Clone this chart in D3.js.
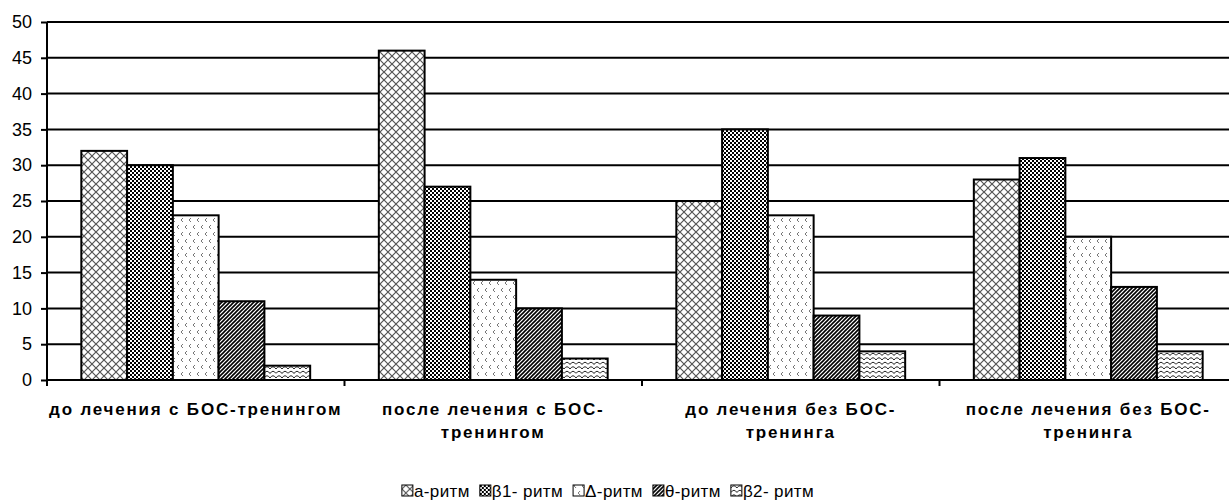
<!DOCTYPE html>
<html><head><meta charset="utf-8">
<script src="https://cdn.jsdelivr.net/npm/d3@7/dist/d3.min.js"></script>
<style>body{margin:0;background:#fff}svg{display:block}text{font-family:"Liberation Sans",Arial,sans-serif}</style>
</head><body>
<svg id="c" width="1229" height="504"></svg>
<script>
const categories = [["до лечения с БОС-тренингом"],["после лечения с БОС-","тренингом"],["до лечения без БОС-","тренинга"],["после лечения без БОС-","тренинга"]];
const seriesNames = ["а-ритм","β1- ритм","Δ-ритм","θ-ритм","β2- ритм"];
const alpha = [32,46,25,28];
const beta1 = [30,27,35,31];
const delta = [23,14,23,20];
const theta = [11,10,9,13];
const beta2 = [2,3,4,4];
const yTicks = [0,5,10,15,20,25,30,35,40,45,50];
const seriesValues = [alpha,beta1,delta,theta,beta2];

(function(){
const svg = d3.select("#c");
const defs = svg.append("defs");
function pat(id,w,h){return defs.append("pattern").attr("id",id).attr("patternUnits","userSpaceOnUse").attr("width",w).attr("height",h);}
let p = pat("p0",8,8);
p.append("rect").attr("width",8).attr("height",8).attr("fill","#fff");
p.append("path").attr("d","M0,0L8,8M8,0L0,8").attr("stroke","#555").attr("stroke-width",1.2);
p = pat("p1",4,4);
p.append("rect").attr("width",4).attr("height",4).attr("fill","#fff");
p.append("rect").attr("x",0).attr("y",0).attr("width",2).attr("height",2).attr("fill","#000");
p.append("rect").attr("x",2).attr("y",2).attr("width",2).attr("height",2).attr("fill","#000");
p = pat("p2",8,14);
p.append("rect").attr("width",8).attr("height",14).attr("fill","#fff");
p.append("path").attr("d","M3,1L1,3L3,5M7,8L5,10L7,12").attr("stroke","#777").attr("stroke-width",1).attr("fill","none");
p = pat("p3",4,4);
p.append("rect").attr("width",4).attr("height",4).attr("fill","#fff");
p.append("path").attr("d","M-1,1L1,-1M0,4L4,0M3,5L5,3").attr("stroke","#000").attr("stroke-width",1.6);
p = pat("p4",12,9);
p.append("rect").attr("width",12).attr("height",9).attr("fill","#fff");
p.append("path").attr("d","M0,4.5Q3,0 6,4.5Q9,0 12,4.5M0,9Q3,4.5 6,9Q9,4.5 12,9M0,0Q3,-4.5 6,0Q9,-4.5 12,0").attr("stroke","#222").attr("stroke-width",1).attr("fill","none");

const pL = 47, pR = 1237, pT = 22, pB = 380;
const x0 = d3.scaleBand().domain(d3.range(categories.length)).range([pL,pR]).paddingInner(0).paddingOuter(0);
const bw = x0.bandwidth()/6.5;
const y = d3.scaleLinear().domain([0,50]).range([pB,pT]);

svg.append("g").selectAll("line").data(yTicks.filter(d=>d>0)).join("line")
  .attr("x1",pL).attr("x2",1229).attr("y1",d=>y(d)).attr("y2",d=>y(d))
  .attr("stroke","#000").attr("stroke-width",2);

const ya = svg.append("g").attr("transform",`translate(${pL},0)`)
  .call(d3.axisLeft(y).tickValues(yTicks).tickSize(6).tickPadding(9));
ya.attr("font-size",null).attr("font-family",null);
ya.select(".domain").attr("stroke","#000").attr("stroke-width",2).attr("d",`M0,${pT}V${pB+6}`);
ya.selectAll(".tick line").attr("stroke","#000").attr("stroke-width",2);
ya.selectAll("text").style("font-size","18px").attr("fill","#000").style("font-family","Liberation Sans, Arial");

const g = svg.append("g");
seriesValues.forEach((vals,si)=>{
  g.selectAll(null).data(vals).join("rect")
    .attr("x",(d,i)=>x0(i)+0.75*bw+si*bw)
    .attr("y",d=>y(d)).attr("width",bw).attr("height",d=>y(0)-y(d))
    .attr("fill",`url(#p${si})`).attr("stroke","#000").attr("stroke-width",2);
});

svg.append("line").attr("x1",pL).attr("x2",1229).attr("y1",pB).attr("y2",pB).attr("stroke","#000").attr("stroke-width",2);
svg.append("g").selectAll("line").data(d3.range(1,categories.length)).join("line")
  .attr("x1",d=>x0(d)).attr("x2",d=>x0(d)).attr("y1",pB).attr("y2",pB+6).attr("stroke","#000").attr("stroke-width",2);

const xl = svg.append("g").selectAll("text").data(categories).join("text")
  .attr("x",(d,i)=>x0(i)+x0.bandwidth()/2).attr("y",415)
  .attr("text-anchor","middle").style("font-size","17px").attr("font-weight","bold").attr("letter-spacing",1.8).attr("fill","#000");
xl.selectAll("tspan").data(d=>d).join("tspan")
  .attr("x",function(){return this.parentNode.getAttribute("x");})
  .attr("dy",(d,i)=>i?23:0).text(d=>d);

const leg = svg.append("g");
const items = [];
seriesNames.forEach((n,i)=>{
  const it = leg.append("g");
  it.append("rect").attr("x",0).attr("y",-12).attr("width",11).attr("height",11).attr("fill",`url(#p${i})`).attr("stroke","#000").attr("stroke-width",1);
  const t = it.append("text").attr("x",12).attr("y",0).style("font-size","17px").attr("letter-spacing",0.4).attr("fill","#000").text(n);
  items.push([it, 12+t.node().getComputedTextLength()]);
});
const gap = 10;
let total = items.reduce((s,d)=>s+d[1],0)+(items.length-1)*gap;
let cx = 608 - total/2;
items.forEach(([it,w])=>{it.attr("transform",`translate(${cx},497)`); cx += w+gap;});
})();
</script>
</body></html>
